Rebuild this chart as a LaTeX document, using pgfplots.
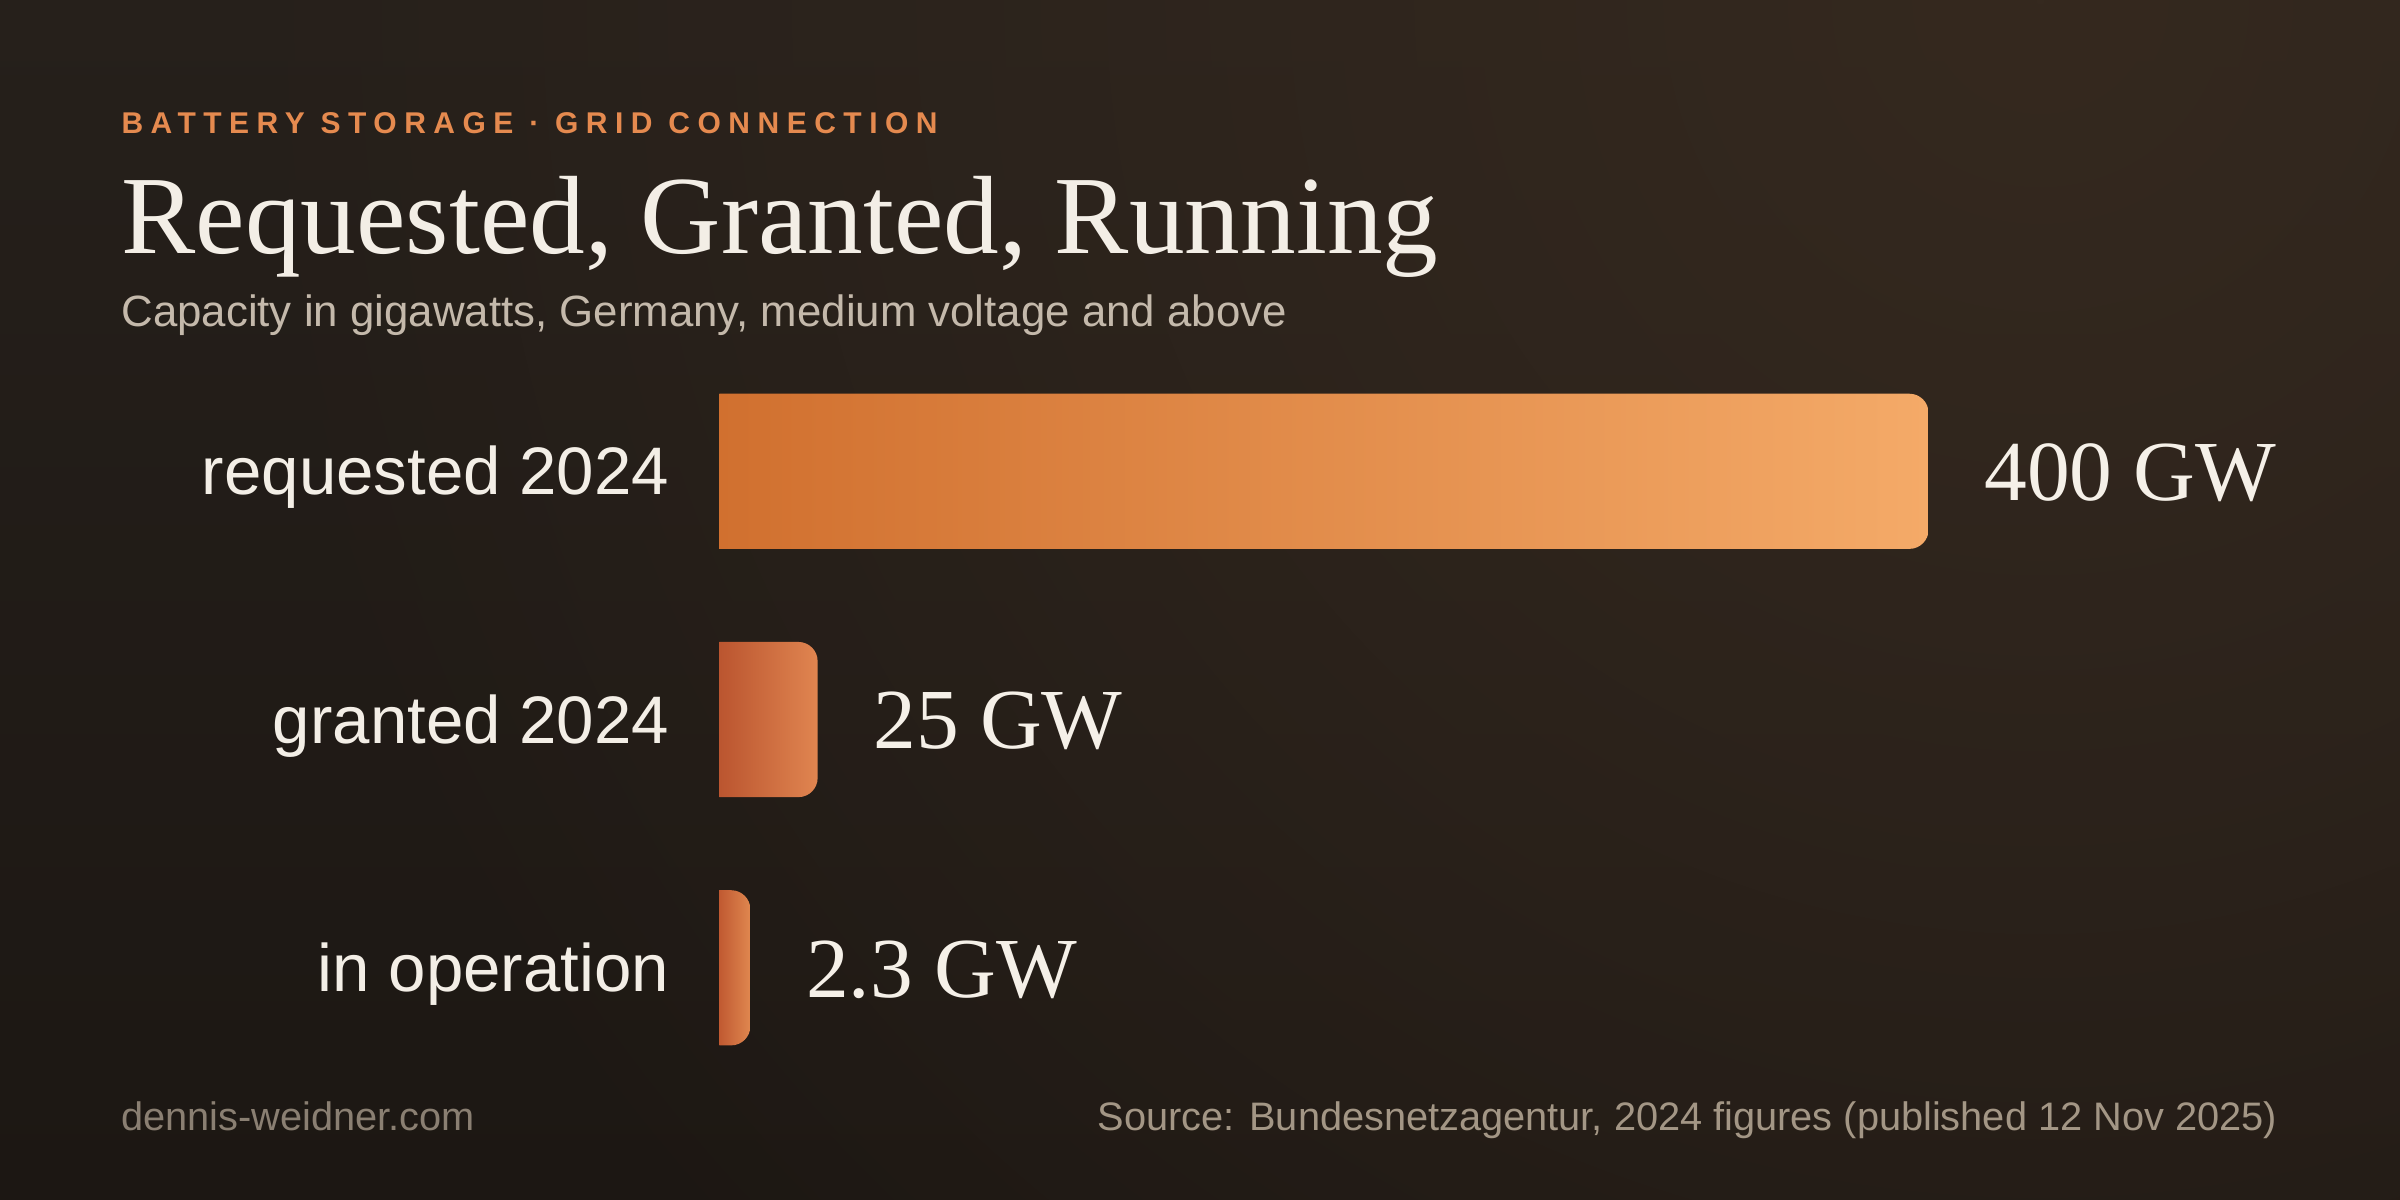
\documentclass[border=0pt]{standalone}
\usepackage{fontspec}
\setmainfont{Liberation Serif}
\setsansfont{Liberation Sans}
\newfontfamily\headfont{Liberation Sans}[LetterSpace=25]
\usepackage{pgfplots}
\pgfplotsset{compat=1.18}
\usetikzlibrary{fadings}
\tikzfading[name=myglow, inner color=transparent!0, outer color=transparent!100]
\definecolor{bgtop}{HTML}{26201B}
\definecolor{bgbot}{HTML}{1C1713}
\definecolor{glow}{HTML}{35291F}
\definecolor{hdr}{HTML}{E58A4F}
\definecolor{titlec}{HTML}{F3EEE6}
\definecolor{subc}{HTML}{C4B9AB}
\definecolor{lbl}{HTML}{F3EEE6}
\definecolor{val}{HTML}{F5F0E8}
\definecolor{webc}{HTML}{8A7F72}
\definecolor{srcc}{HTML}{A39685}
\definecolor{bAl}{RGB}{208,111,46}
\definecolor{bAr}{RGB}{244,170,104}
\definecolor{bBl}{RGB}{178,74,40}
\definecolor{bBr}{RGB}{224,133,80}
\definecolor{bCl}{RGB}{168,56,28}
\definecolor{bCr}{RGB}{224,135,79}
\begin{document}
\begin{tikzpicture}
\begin{scope}
\clip (0,0) rectangle (800bp,400bp);
\shade[top color=bgtop, bottom color=bgbot] (0,0) rectangle (800bp,400bp);
\fill[glow, path fading=myglow] (680bp,400bp) circle (620bp);
\end{scope}
\node[anchor=base west, inner sep=0pt, text=hdr, font=\headfont\bfseries\fontsize{10bp}{12bp}\selectfont] at (40.3bp,355.6bp) {BATTERY STORAGE · GRID CONNECTION};
\node[anchor=base west, inner sep=0pt, text=titlec, font=\rmfamily\fontsize{37.1bp}{42bp}\selectfont] at (40.3bp,315.6bp) {Requested, Granted, Running};
\node[anchor=base west, inner sep=0pt, text=subc, font=\sffamily\fontsize{14.6bp}{17bp}\selectfont] at (40.3bp,291.3bp) {Capacity in gigawatts, Germany, medium voltage and above};
\node[anchor=base west, inner sep=0pt, text=webc, font=\sffamily\fontsize{13.25bp}{15bp}\selectfont] at (40.3bp,23.2bp) {dennis-weidner.com};
\node[anchor=base east, inner sep=0pt, text=srcc, font=\sffamily\fontsize{13.25bp}{15bp}\selectfont] at (759.2bp,23.2bp) {Source: Bundesnetzagentur, 2024 figures (published 12 Nov 2025)};
\begin{axis}[
  at={(519.9bp,160.15bp)}, anchor=center,
  scale only axis, width=560.2bp, height=264.8bp,
  xmin=-8.16, xmax=559.13, ymin=-0.6, ymax=2.6,
  axis line style={draw=none},
  xtick=\empty,
  ytick={0,1,2},
  yticklabels={in operation, granted 2024, requested 2024},
  major tick length=0pt,
  tick style={draw=none},
  yticklabel style={anchor=base east, inner sep=0pt, xshift=-16.6bp, yshift=-7.9bp, text=lbl, font=\sffamily\fontsize{22.4bp}{26bp}\selectfont},
  clip=true,
]
\addplot[draw=none, left color=bAl, right color=bAr, rounded corners=6.4bp] coordinates {(-16,1.6875) (400,1.6875) (400,2.3125) (-16,2.3125)} -- cycle;
\addplot[draw=none, left color=bBl, right color=bBr, rounded corners=6.4bp] coordinates {(-16,0.6875) (25,0.6875) (25,1.3125) (-16,1.3125)} -- cycle;
\addplot[draw=none, left color=bCl, right color=bCr, rounded corners=6.4bp] coordinates {(-16,-0.3125) (2.3,-0.3125) (2.3,0.3125) (-16,0.3125)} -- cycle;
\addplot[draw=none, mark=none, nodes near coords, nodes near coords align={horizontal}, point meta=explicit symbolic,
  nodes near coords style={anchor=base west, inner sep=0pt, xshift=18.4bp, yshift=-9.75bp, text=val, font=\rmfamily\fontsize{28.5bp}{32bp}\selectfont}]
  coordinates {(400,2) [400 GW] (25,1) [25 GW] (2.3,0) [2.3 GW]};
\end{axis}
\pgfresetboundingbox
\useasboundingbox (0,0) rectangle (800bp,400bp);
\end{tikzpicture}
\end{document}
